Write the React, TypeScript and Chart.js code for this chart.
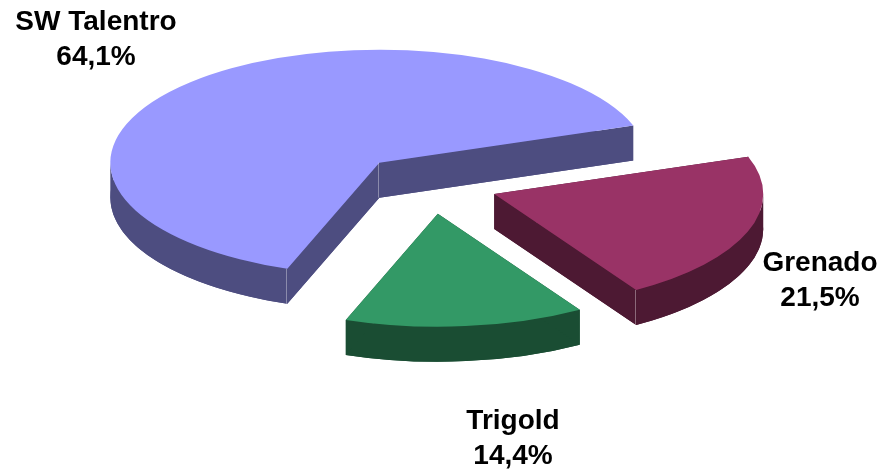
import React, { useEffect, useRef } from "react";
import { Chart, registerables } from "chart.js";

Chart.register(...registerables);

const categories = ["SW Talentro", "Grenado", "Trigold"];
const shares = [64.1, 21.5, 14.4];
const topColors = ["#9999FF", "#993366", "#339966"];
const sideColors = ["#4D4D80", "#4D1933", "#1A4D33"];
const explode = [73, 67.5, 70];
const labelPositions = [
  [96, 22],
  [820, 263],
  [513, 421],
];

const SQUASH = 0.42;
const DEPTH = 35;
const CENTER_X = 430.6;
const CENTER_Y = 184.5;
const EDGE = "rgba(255,255,255,0.35)";

const middle = (chart: any) => {
  const area = chart.chartArea;
  return [(area.left + area.right) / 2, (area.top + area.bottom) / 2];
};

const pie3d = {
  id: "pie3d",
  afterDatasetsUpdate(chart: any) {
    chart.getDatasetMeta(0).data.forEach((arc: any, i: number) => {
      const mid = (arc.startAngle + arc.endAngle) / 2;
      arc.x += Math.cos(mid) * explode[i];
      arc.y += Math.sin(mid) * explode[i];
    });
  },
  beforeDatasetDraw(chart: any, args: any) {
    const ctx = chart.ctx;
    const [midX, midY] = middle(chart);
    const project = (lift: number) => {
      ctx.translate(CENTER_X - midX, CENTER_Y + lift);
      ctx.scale(1, SQUASH);
      ctx.translate(0, -midY);
    };
    args.meta.data.forEach((arc: any, i: number) => {
      // Lower face, through the library's own arc element.
      const original = arc.options;
      arc.options = { ...original, backgroundColor: sideColors[i] };
      ctx.save();
      project(DEPTH);
      arc.draw(ctx);
      ctx.restore();
      arc.options = original;

      // Walls joining the lower face to the upper one.
      const sx = CENTER_X - midX + arc.x;
      const sy = CENTER_Y + (arc.y - midY) * SQUASH;
      const rx = arc.outerRadius;
      const ry = arc.outerRadius * SQUASH;
      ctx.save();
      ctx.fillStyle = sideColors[i];
      // Only the rim on the viewer's side of the pie shows.
      for (let k = 0; k < 2; k++) {
        const from = Math.max(arc.startAngle, 2 * Math.PI * k);
        const to = Math.min(arc.endAngle, Math.PI + 2 * Math.PI * k);
        if (from >= to) continue;
        ctx.beginPath();
        ctx.ellipse(sx, sy, rx, ry, 0, from, to, false);
        ctx.ellipse(sx, sy + DEPTH, rx, ry, 0, to, from, true);
        ctx.closePath();
        ctx.fill();
      }
      [arc.startAngle, arc.endAngle].forEach((a: number) => {
        const ex = sx + Math.cos(a) * rx;
        const ey = sy + Math.sin(a) * ry;
        ctx.beginPath();
        ctx.moveTo(sx, sy);
        ctx.lineTo(ex, ey);
        ctx.lineTo(ex, ey + DEPTH);
        ctx.lineTo(sx, sy + DEPTH);
        ctx.closePath();
        ctx.fill();
      });
      ctx.restore();
    });
    ctx.save();
    project(0);
  },
  afterDatasetDraw(chart: any, args: any) {
    const ctx = chart.ctx;
    ctx.restore();
    const [midX, midY] = middle(chart);
    const [sw, grenado] = args.meta.data;
    const rim = (arc: any, angle: number, r: number) => [
      CENTER_X - midX + arc.x + Math.cos(angle) * r,
      CENTER_Y + (arc.y + Math.sin(angle) * r - midY) * SQUASH,
    ];
    const corners = [
      rim(sw, sw.startAngle, 0),
      rim(sw, sw.startAngle, sw.outerRadius),
      rim(grenado, grenado.endAngle, grenado.outerRadius),
    ];
    ctx.save();
    ctx.strokeStyle = EDGE;
    ctx.lineWidth = 1;
    corners.forEach(([x, y]) => {
      const px = Math.round(x) - 0.5;
      ctx.beginPath();
      ctx.moveTo(px, y);
      ctx.lineTo(px, y + DEPTH);
      ctx.stroke();
    });
    ctx.restore();
  },
  afterDraw(chart: any) {
    const ctx = chart.ctx;
    ctx.save();
    ctx.fillStyle = "#000";
    ctx.font = 'bold 28px "Liberation Sans", Arial, sans-serif';
    ctx.textAlign = "center";
    ctx.textBaseline = "middle";
    categories.forEach((name, i) => {
      const [x, y] = labelPositions[i];
      ctx.fillText(name, x, y);
      ctx.fillText(shares[i].toFixed(1).replace(".", ",") + "%", x, y + 35);
    });
    ctx.restore();
  },
};

export default function App() {
  const ref = useRef<HTMLCanvasElement>(null);
  useEffect(() => {
    const chart = new Chart(ref.current!, {
      type: "pie",
      data: {
        labels: categories,
        datasets: [
          {
            data: shares,
            backgroundColor: topColors,
            borderWidth: 0,
            clip: false,
          } as any,
        ],
      },
      options: {
        responsive: false,
        animation: false,
        rotation: 200,
        radius: 269,
        layout: { padding: 0 },
        plugins: { legend: { display: false }, tooltip: { enabled: false } },
      } as any,
      plugins: [pie3d],
    });
    return () => chart.destroy();
  }, []);
  return (
    <div style={{ position: "fixed", left: 0, top: 0, width: 884, height: 473, background: "#fff" }}>
      <canvas ref={ref} width={884} height={473} style={{ display: "block" }} />
    </div>
  );
}
